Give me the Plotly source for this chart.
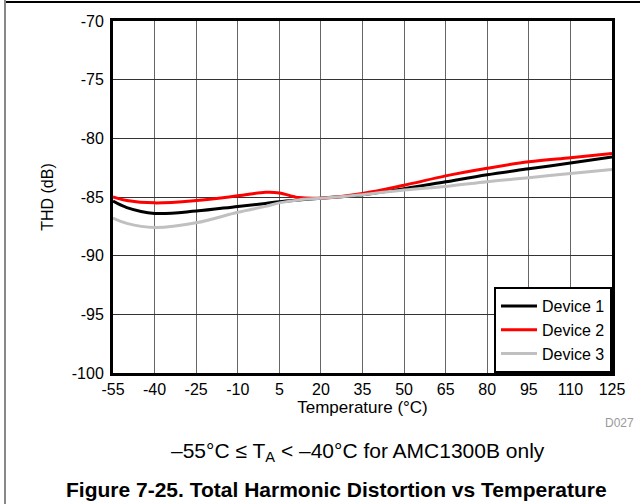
import plotly.graph_objects as go

temps = [-55, -50, -40, -25, -10, 0, 5, 12, 20, 35, 50, 65, 80, 95, 110, 125]
device1 = [-85.35, -85.9, -86.4, -86.2, -85.8, -85.55, -85.4, -85.25, -85.1, -84.8, -84.3, -83.7, -83.1, -82.6, -82.1, -81.6]
device2 = [-85.0, -85.3, -85.5, -85.3, -84.9, -84.6, -84.65, -85.05, -85.1, -84.7, -84.0, -83.2, -82.55, -82.0, -81.65, -81.3]
device3 = [-86.8, -87.25, -87.6, -87.2, -86.3, -85.8, -85.5, -85.25, -85.1, -84.8, -84.4, -84.1, -83.7, -83.35, -83.0, -82.65]

x_ticks = [-55, -40, -25, -10, 5, 20, 35, 50, 65, 80, 95, 110, 125]
y_ticks = [-70, -75, -80, -85, -90, -95, -100]

FONT = "Liberation Sans, Arial, sans-serif"

fig = go.Figure()
for name, vals, col in [("Device 1", device1, "#000000"),
                        ("Device 2", device2, "#ff0000"),
                        ("Device 3", device3, "#c0c0c0")]:
    fig.add_trace(go.Scatter(x=temps, y=vals, mode="lines", name=name,
                             line=dict(color=col, width=3, shape="spline", smoothing=1.0)))

# plot area in px: x 113..612, y 21..373
L, R, T, B = 113, 612, 21, 373
W, H = R - L, B - T
def px(x):
    return (x - L) / W
def py(y):
    return (B - y) / H

fig.update_layout(
    width=640, height=504,
    margin=dict(l=L, r=640 - R, t=T, b=504 - B),
    paper_bgcolor="white", plot_bgcolor="white",
    font=dict(family=FONT, size=16, color="black"),
    showlegend=True,
    legend=dict(x=1, y=0, xanchor="right", yanchor="bottom",
                bgcolor="white", bordercolor="black", borderwidth=2,
                font=dict(size=16, family=FONT), tracegroupgap=0,
                itemwidth=36),
    xaxis=dict(range=[-55, 125], tickvals=x_ticks, ticktext=[str(v) for v in x_ticks],
               showgrid=True, gridcolor="#666666", gridwidth=1,
               showline=True, linecolor="black", linewidth=3, mirror=True,
               ticks="", zeroline=False,
               title=dict(text="Temperature (°C)", font=dict(size=17), standoff=2),
               tickfont=dict(size=16)),
    yaxis=dict(range=[-100, -70], tickvals=y_ticks, ticktext=[str(v) for v in y_ticks],
               showgrid=True, gridcolor="#333333", gridwidth=1,
               showline=True, linecolor="black", linewidth=3, mirror=True,
               ticks="", zeroline=False, ticklabelstandoff=3,
               title=dict(text="THD (dB)", font=dict(size=16), standoff=15),
               tickfont=dict(size=16)),
)

# outer frame lines
fig.add_shape(type="line", xref="paper", yref="paper",
              x0=px(5), x1=px(640), y0=py(2), y1=py(2),
              line=dict(color="black", width=2))
fig.add_shape(type="line", xref="paper", yref="paper",
              x0=px(5), x1=px(5), y0=py(0), y1=py(504),
              line=dict(color="#888888", width=2))

fig.add_annotation(text="D027", xref="paper", yref="paper", x=px(636), y=py(423),
                   xanchor="right", yanchor="middle", showarrow=False,
                   font=dict(size=12, color="#999999", family=FONT))
fig.add_annotation(text="–55°C ≤ T<sub>A</sub> < –40°C for AMC1300B only",
                   xref="paper", yref="paper", x=px(358), y=py(452),
                   xanchor="center", yanchor="middle", showarrow=False,
                   font=dict(size=21, color="black", family=FONT))
fig.add_annotation(text="<b>Figure 7-25. Total Harmonic Distortion vs Temperature</b>",
                   xref="paper", yref="paper", x=px(336), y=py(489),
                   xanchor="center", yanchor="middle", showarrow=False,
                   font=dict(size=21, color="black", family=FONT))

fig.write_html("out.html", config={"displayModeBar": False},
               post_script="document.body.style.margin='0';")
